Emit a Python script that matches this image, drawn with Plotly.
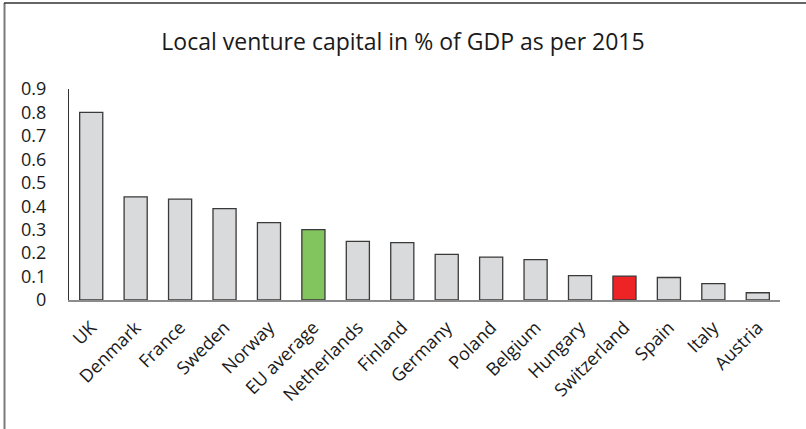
import plotly.graph_objects as go

countries = ["UK", "Denmark", "France", "Sweden", "Norway", "EU average", "Netherlands",
             "Finland", "Germany", "Poland", "Belgium", "Hungary", "Switzerland",
             "Spain", "Italy", "Austria"]
values = [0.80, 0.44, 0.43, 0.39, 0.33, 0.30, 0.25, 0.245, 0.195, 0.183, 0.172,
          0.104, 0.102, 0.096, 0.07, 0.031]
highlight = {"EU average": "#82c55f", "Switzerland": "#ee2326"}
base_color = "#d9dadb"
colors = [highlight.get(c, base_color) for c in countries]
y_ticks = [0, 0.1, 0.2, 0.3, 0.4, 0.5, 0.6, 0.7, 0.8, 0.9]
y_tick_text = ["0", "0.1", "0.2", "0.3", "0.4", "0.5", "0.6", "0.7", "0.8", "0.9"]

W, H = 806, 429
L, R, T, B = 69, 26, 89, 129
pw, ph = W - L - R, H - T - B

def px_x(p):
    return (p - L) / pw

def px_y(p):
    return (H - B - p) / ph

fig = go.Figure(go.Bar(
    x=countries, y=values,
    marker=dict(color=colors, line=dict(color="#3a3a3a", width=1.3)),
    width=0.52,
))

fig.update_layout(
    width=W, height=H,
    margin=dict(l=L, r=R, t=T, b=B),
    paper_bgcolor="white", plot_bgcolor="white",
    font=dict(family="Open Sans", color="#1a1a1a"),
    showlegend=False,
    title=dict(text="Local venture capital in % of GDP as per 2015",
               x=0.5, xanchor="center", y=1 - 42 / H, yanchor="middle",
               font=dict(size=23, color="#1a1a1a")),
    xaxis=dict(showgrid=False, showline=True, linecolor="#8c8c8c", linewidth=2,
               tickangle=-45, tickfont=dict(size=18), ticks="",
               ticklabelstandoff=8,
               range=[-0.5, len(countries) - 0.5]),
    yaxis=dict(range=[0, 0.9], showgrid=False, showline=True, linecolor="#333333",
               linewidth=1, tickvals=y_ticks, ticktext=y_tick_text,
               tickfont=dict(size=18), ticks="", ticklabelstandoff=18,
               zeroline=False),
    shapes=[
        dict(type="line", xref="paper", yref="paper",
             x0=px_x(4.5), x1=px_x(4.5), y0=px_y(3), y1=px_y(H + 5),
             line=dict(color="#7a7a7a", width=2)),
        dict(type="line", xref="paper", yref="paper",
             x0=px_x(4), x1=px_x(W + 5), y0=px_y(3), y1=px_y(3),
             line=dict(color="#333333", width=1.5)),
    ],
)

fig.write_html("out.html")
